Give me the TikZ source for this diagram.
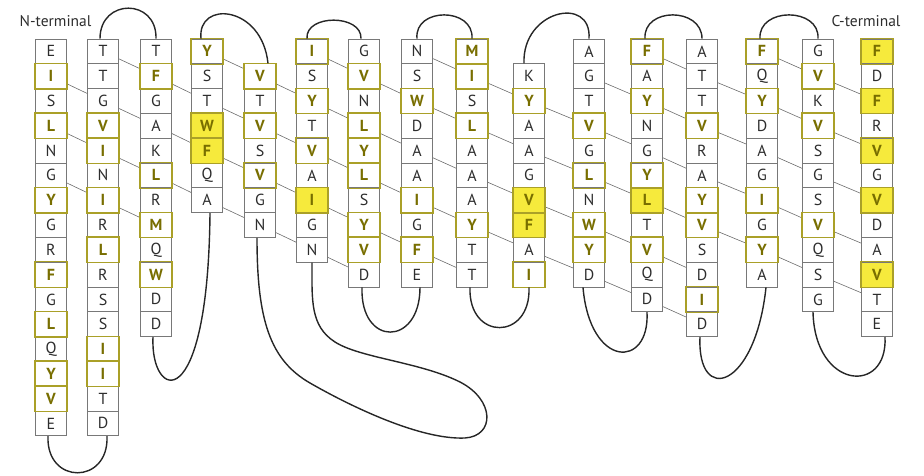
\documentclass[tikz,border=0pt]{standalone}
\usepackage{fontspec}
\setmainfont{PT Sans}
\usepackage{xcolor}
\usepackage{tikz}
\usetikzlibrary{backgrounds}

\definecolor{plainline}{RGB}{120,120,120}
\definecolor{plaintext}{RGB}{45,45,45}
\definecolor{hlline}{RGB}{170,160,40}
\definecolor{hltext}{RGB}{120,110,0}
\definecolor{hlfill}{RGB}{246,234,60}

\tikzset{
  res0/.style={draw=plainline, line width=0.8pt, fill=white, text=plaintext,
    minimum width=31pt, minimum height=24.8pt, inner sep=0pt,
    font=\fontsize{16}{16}\selectfont},
  res1/.style={res0, text=hltext, font=\fontsize{16}{16}\selectfont\bfseries},
  res2/.style={res1, fill=hlfill},
  hlbox/.style={draw=hlline, line width=1.3pt},
  hbond/.style={draw=plainline!90!black, line width=0.6pt},
  backbone/.style={draw=black!85, line width=1.4pt},
  term/.style={text=plaintext, font=\fontsize{15.5}{15.5}\selectfont}
}

\newcommand{\strandlist}{%
  1/51/0/{E/0,I/1,S/0,L/1,N/0,G/0,Y/1,G/0,R/0,F/1,G/0,L/1,Q/0,Y/1,V/1,E/0},
  2/103/0/{T/0,T/0,G/0,V/1,I/1,N/0,I/1,R/0,L/1,R/0,S/0,S/0,I/1,I/1,T/0,D/0},
  3/156/0/{T/0,F/1,G/0,A/0,K/0,L/1,R/0,M/1,Q/0,W/1,D/0,D/0},
  4/207/0/{Y/1,S/0,T/0,W/2,F/2,Q/0,A/0},
  5/260/1/{V/1,T/0,V/1,S/0,V/1,G/0,N/0},
  6/312/0/{I/1,S/0,Y/1,T/0,V/1,A/0,I/2,G/0,N/0},
  7/364/0/{G/0,V/1,N/0,L/1,Y/1,L/1,S/0,Y/1,V/1,D/0},
  8/417/0/{N/0,S/0,W/1,D/0,A/0,A/0,I/1,G/0,F/1,E/0},
  9/472/0/{M/1,I/1,S/0,L/1,A/0,A/0,A/0,Y/1,T/0,T/0},
  10/529/1/{K/0,Y/1,A/0,A/0,G/0,V/2,F/2,A/0,I/1},
  11/589/0/{A/0,G/0,T/0,V/1,G/0,L/1,N/0,W/1,Y/1,D/0},
  12/647/0/{F/1,A/0,Y/1,N/0,G/0,Y/1,L/2,T/0,V/1,Q/0,D/0},
  13/702/0/{A/0,T/0,T/0,V/1,R/0,A/0,Y/1,V/1,S/0,D/0,I/1,D/0},
  14/762/0/{F/1,Q/0,Y/1,D/0,A/0,G/0,I/1,G/0,Y/1,A/0},
  15/818/0/{G/0,V/1,K/0,V/1,S/0,G/0,S/0,V/1,Q/0,S/0,G/0},
  16/877/0/{F/2,D/0,F/2,R/0,V/2,G/0,V/2,D/0,A/0,V/2,T/0,E/0}}

\begin{document}
\begin{tikzpicture}[x=1pt, y=-1pt]
  \useasboundingbox (0,0) rectangle (924,476);

  \foreach \col/\xc/\off/\seq in \strandlist
    \foreach \ltr/\kind [count=\n from 0] in \seq {
      \pgfmathtruncatemacro\r{\n+\off}
      \node[res\kind] (c\col-\r) at (\xc, 51.4+24.8*\r) {\ltr};
    }

  \foreach \col/\xc/\off/\seq in \strandlist
    \foreach \ltr/\kind [count=\n from 0] in \seq {
      \pgfmathtruncatemacro\r{\n+\off}
      \ifnum\kind>0
        \draw[hlbox] (c\col-\r.north west) rectangle (c\col-\r.south east);
      \fi
    }

  \begin{scope}[on background layer]
    \foreach \i/\rows in {1/{1,3,5}, 2/{0,2,4,6}, 3/{1,3,5}, 4/{0,2,4,6},
        5/{1,3,5,7}, 6/{0,2,4,6,8}, 7/{1,3,5,7}, 8/{0,2,4,6,8},
        9/{1,3,5,7}, 10/{2,4,6,8}, 11/{1,3,5,7,9}, 12/{0,2,4,6,8,10},
        13/{1,3,5,7}, 14/{0,2,4,6,8}, 15/{1,3,5,7,9}}
      \foreach \r in \rows {
        \pgfmathtruncatemacro\j{\i+1}
        \pgfmathtruncatemacro\s{\r+1}
        \draw[hbond] (c\i-\r.center) -- (c\j-\s.center);
      }
  \end{scope}

  \node[term] (nterm) at (55.5,21) {N-terminal};
  \node[term] (cterm) at (866,21) {C-terminal};

  \draw[backbone] ([xshift=-3pt]c2-0.north) .. controls (100,-2) and (157,-2) .. (c3-0.north);
  \draw[backbone] ([xshift=-6pt]c4-0.north) .. controls (197,0) and (262,5) .. ([xshift=8pt]c5-1.north);
  \draw[backbone] ([xshift=-5pt]c6-0.north) .. controls (305,14) and (362,14) .. ([xshift=-3pt]c7-0.north);
  \draw[backbone] (c8-0.north) .. controls (414,7) and (474,7) .. (c9-0.north);
  \draw[backbone] ([xshift=-5pt]c10-1.north) .. controls (522,10) and (592,-5) .. (c11-0.north);
  \draw[backbone] ([xshift=-2pt]c12-0.north) .. controls (643,7) and (702,7) .. (c13-0.north);
  \draw[backbone] ([xshift=-2pt]c14-0.north) .. controls (758,7) and (820,7) .. (c15-0.north);

  \draw[backbone] ([xshift=-3pt]c1-15.south) .. controls (46,485) and (109,485) .. ([xshift=4pt]c2-15.south);
  \draw[backbone] ([xshift=-3pt]c3-11.south) .. controls (150,400) and (208,420) .. ([xshift=3pt]c4-6.south);
  \draw[backbone] ([xshift=-3pt]c5-7.south) .. controls (257,320) and (270,360) .. (310,383)
    .. controls (350,406) and (420,440) .. (465,438)
    .. controls (495,436) and (495,400) .. (460,382)
    .. controls (420,362) and (360,358) .. (335,342)
    .. controls (310,326) and (312,300) .. (c6-8.south);
  \draw[backbone] ([xshift=-2pt]c7-9.south) .. controls (360,347) and (420,347) .. ([xshift=3pt]c8-9.south);
  \draw[backbone] ([xshift=-2pt]c9-9.south) .. controls (468,341) and (531,341) .. (c10-9.south);
  \draw[backbone] ([xshift=-6pt]c11-9.south) .. controls (590,369) and (650,369) .. (c12-10.south);
  \draw[backbone] ([xshift=-2pt]c13-11.south) .. controls (697,405) and (755,390) .. ([xshift=4pt]c14-9.south);
  \draw[backbone] ([xshift=-5pt]c15-10.south) .. controls (815,390) and (888,395) .. ([xshift=8pt]c16-11.south);
\end{tikzpicture}
\end{document}
